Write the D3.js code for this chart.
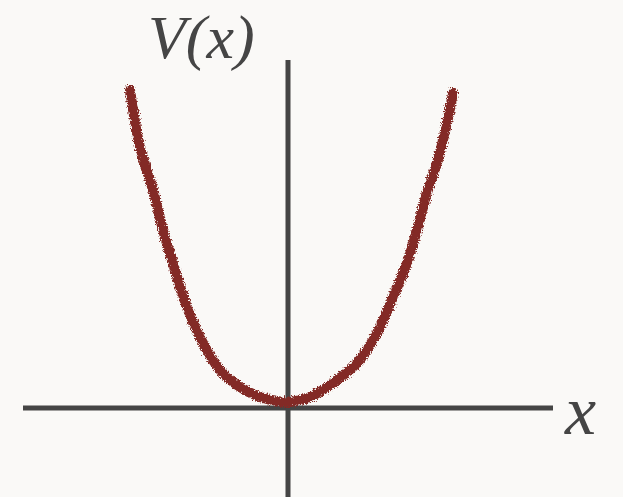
<!DOCTYPE html>
<html>
    <head>
        <title>V(x)</title>
        <script src="https://d3js.org/d3.v7.min.js"></script>
        <style>
            body { margin: 0; background: #faf9f7; }
        </style>
    </head>
    <body>
        <svg width = "623" height = "497" id = "mainSvg"></svg>
        <script>
            // points (x, V(x))
            const xs = [-1.58, -1.48, -1.35, -1.25, -1.13, -1.01, -0.85, -0.68, -0.48, -0.28, -0.05,
                         0.02, 0.22, 0.45, 0.69, 0.89, 1.05, 1.19, 1.29, 1.39, 1.49, 1.59, 1.65]
            const vs = [3.18, 2.61, 2.18, 1.78, 1.38, 1.01, 0.65, 0.38, 0.21, 0.11, 0.06,
                        0.06, 0.11, 0.25, 0.45, 0.75, 1.11, 1.45, 1.78, 2.15, 2.45, 2.85, 3.15]
            const xDomain = [-2.65, 2.65]
            const yDomain = [-0.89, 3.48]
            const yLabel = "V(x)"
            const xLabel = "x"

            const svg = d3.select("#mainSvg")
            const width = +svg.attr("width")
            const height = +svg.attr("height")

            svg.append("rect").attr("width", width).attr("height", height).attr("fill", "#faf9f7")

            // rough chalky look for the curve
            const defs = svg.append("defs")
            const f = defs.append("filter").attr("id", "rough")
                .attr("x", "-10%").attr("y", "-10%").attr("width", "120%").attr("height", "120%")
            f.append("feTurbulence").attr("type", "fractalNoise")
                .attr("baseFrequency", 0.7).attr("numOctaves", 3).attr("seed", 3).attr("result", "noise")
            f.append("feDisplacementMap").attr("in", "SourceGraphic").attr("in2", "noise")
                .attr("scale", 6).attr("xChannelSelector", "R").attr("yChannelSelector", "G")

            const xScale = d3.scaleLinear().domain(xDomain).range([23, 553])
            const yScale = d3.scaleLinear().domain(yDomain).range([497, 60])

            //坐标轴
            const axisColor = "#454545"
            svg.append("line")
                .attr("x1", xScale(xDomain[0])).attr("x2", xScale(xDomain[1]))
                .attr("y1", yScale(0)).attr("y2", yScale(0))
                .attr("stroke", axisColor).attr("stroke-width", 5)
            svg.append("line")
                .attr("x1", xScale(0)).attr("x2", xScale(0))
                .attr("y1", yScale(yDomain[0])).attr("y2", yScale(yDomain[1]))
                .attr("stroke", axisColor).attr("stroke-width", 5)

            //曲线
            const pts = xs.map((x, i) => [x, vs[i]])
            const line = d3.line()
                .x(d => xScale(d[0]))
                .y(d => yScale(d[1]))
                .curve(d3.curveCatmullRom)

            svg.append("path")
                .datum(pts)
                .attr("d", line)
                .attr("fill", "none")
                .attr("stroke", "#832c26")
                .attr("stroke-width", 10)
                .attr("stroke-linecap", "round")
                .attr("filter", "url(#rough)")

            //标签
            svg.append("text")
                .text(yLabel)
                .attr("x", 148).attr("y", 58)
                .attr("font-family", "Liberation Serif")
                .attr("font-style", "italic")
                .attr("font-size", 62)
                .attr("fill", "#454545")

            svg.append("text")
                .text(xLabel)
                .attr("x", 565).attr("y", 434)
                .attr("font-family", "Liberation Serif")
                .attr("font-style", "italic")
                .attr("font-size", 70)
                .attr("fill", "#454545")
        </script>
    </body>
</html>
